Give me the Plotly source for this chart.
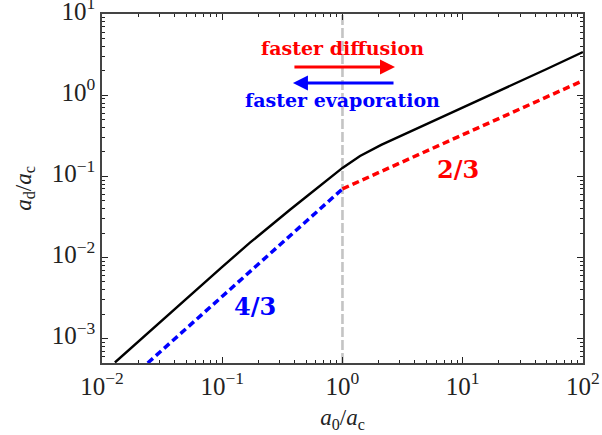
import plotly.graph_objects as go

# Full solution a_d/a_c versus a_0/a_c
x_full = [0.0128, 0.02, 0.03, 0.045, 0.065, 0.1, 0.17, 0.25, 0.366, 0.5, 0.7,
          1.0, 1.4, 2.1, 5, 10, 20, 50, 100]
y_full = [5.07e-4, 9.18e-4, 1.575e-3, 2.70e-3, 4.37e-3, 7.65e-3, 0.0152, 0.0246,
          0.0387, 0.056, 0.0829, 0.127, 0.178, 0.244, 0.44, 0.70, 1.12, 2.1, 3.4]

# Asymptotic branches: 4/3 scaling below a_0 = a_c, 2/3 scaling above
x_small = [0.024, 1.0]
y_small = [5.0e-4, 0.07]
x_large = [1.0, 100.0]
y_large = [0.07, 1.51]

# Decade ticks
x_tickvals = [0.01, 0.1, 1, 10, 100]
x_ticktext = ["10<sup>−2</sup>", "10<sup>−1</sup>", "10<sup>0</sup>",
              "10<sup>1</sup>", "10<sup>2</sup>"]
y_tickvals = [0.001, 0.01, 0.1, 1, 10]
y_ticktext = ["10<sup>−3</sup>", "10<sup>−2</sup>", "10<sup>−1</sup>",
              "10<sup>0</sup>", "10<sup>1</sup>"]

FONT = "Liberation Serif"
BOLD_FONT = "DejaVu Serif"
RED = "#ff0000"
BLUE = "#0000ff"

fig = go.Figure()
fig.add_trace(go.Scatter(x=[1, 1], y=[5e-4, 10], mode="lines",
                         line=dict(color="#c4c4c4", width=2.6, dash="10px,3px"),
                         hoverinfo="skip"))
fig.add_trace(go.Scatter(x=x_full, y=y_full, mode="lines",
                         line=dict(color="black", width=2.4)))
fig.add_trace(go.Scatter(x=x_small, y=y_small, mode="lines",
                         line=dict(color=BLUE, width=3.5, dash="7px,4px")))
fig.add_trace(go.Scatter(x=x_large, y=y_large, mode="lines",
                         line=dict(color=RED, width=3.5, dash="7px,4px")))

axis_common = dict(
    type="log", showgrid=False, zeroline=False, automargin=False,
    showline=True, linecolor="#444", linewidth=1.5, mirror="ticks",
    ticks="inside", ticklen=6, tickwidth=1.3, tickcolor="#222",
    ticklabeloverflow="allow",
    tickfont=dict(family=FONT, size=25, color="#222"),
    minor=dict(ticks="inside", ticklen=3, tickwidth=1, tickcolor="#222",
               dtick="D1", showgrid=False),
)

fig.update_layout(
    width=602, height=435,
    margin=dict(l=102, r=19, t=14, b=72),
    plot_bgcolor="white", paper_bgcolor="white",
    showlegend=False,
    xaxis=dict(range=[-2, 2.0005], tickvals=x_tickvals, ticktext=x_ticktext,
               **axis_common,
               title=dict(text="<i>a</i><sub>0</sub>/<i>a</i><sub>c</sub>",
                          font=dict(family=FONT, size=23, color="#222"),
                          standoff=10)),
    yaxis=dict(range=[-3.301, 1.0005], tickvals=y_tickvals, ticktext=y_ticktext,
               ticklabelshift=-3,
               **axis_common,
               title=dict(text="<i>a</i><sub>d</sub>/<i>a</i><sub>c</sub>",
                          font=dict(family=FONT, size=23, color="#222"),
                          standoff=14)),
)

# Direction arrows
fig.add_annotation(x=0.437, y=0.348, ax=-0.412, ay=0.348,
                   xref="x", yref="y", axref="x", ayref="y",
                   text="", showarrow=True, arrowhead=2, arrowsize=1.0,
                   arrowwidth=3, arrowcolor=RED)
fig.add_annotation(x=-0.412, y=0.151, ax=0.437, ay=0.151,
                   xref="x", yref="y", axref="x", ayref="y",
                   text="", showarrow=True, arrowhead=2, arrowsize=1.0,
                   arrowwidth=3, arrowcolor=BLUE)

fig.add_annotation(x=0.0, y=0.58, xref="x", yref="y", showarrow=False,
                   text="<b>faster diffusion</b>",
                   font=dict(family=BOLD_FONT, size=19, color=RED))
fig.add_annotation(x=0.0, y=-0.06, xref="x", yref="y", showarrow=False,
                   text="<b>faster evaporation</b>",
                   font=dict(family=BOLD_FONT, size=19, color=BLUE))
fig.add_annotation(x=0.96, y=-0.92, xref="x", yref="y", showarrow=False,
                   text="<b>2/3</b>",
                   font=dict(family=BOLD_FONT, size=24, color=RED))
fig.add_annotation(x=-0.73, y=-2.6, xref="x", yref="y", showarrow=False,
                   text="<b>4/3</b>",
                   font=dict(family=BOLD_FONT, size=24, color=BLUE))

fig.write_html("out.html")
